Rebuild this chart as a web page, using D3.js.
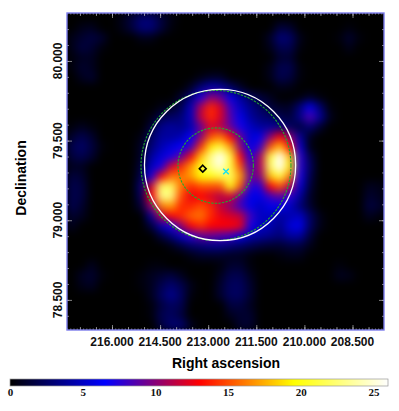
<!DOCTYPE html>
<html>
<head>
<meta charset="utf-8">
<script src="https://cdnjs.cloudflare.com/ajax/libs/d3/7.8.5/d3.min.js"></script>
<style>
  html, body { margin: 0; padding: 0; background: #fff; }
  svg { display: block; }
</style>
</head>
<body>
<div id="map"></div>
<script>
/* Tick labels */
const raTicks = [216, 214.5, 213, 211.5, 210, 208.5];
const decTicks = [80, 79.5, 79, 78.5];
const barTicks = [0, 5, 10, 15, 20, 25];

/* Colour map stops (counts) */
const colorStops = [0, 6.5, 13, 19.5, 26];
const colorNames = ["#000000", "#0000ff", "#ff0000", "#ffff00", "#ffffff"];

/* Overlay regions: ra, dec, radius in degrees of declination */
const whiteCircle = [212.63, 79.347, 0.4745];
const greenCircles = [[212.757, 79.344, 0.4707], [212.766, 79.343, 0.2366]];
const diamondMark = [213.17, 79.324];
const crossMark = [212.445, 79.306];

/* Counts map, 32 rows of 32 cells, top row first */
const counts = [
[0,0,0,0,0,0.5,1.5,2.8,2.8,1.5,0.5,0,0,0,0,0,0,0,0,0,0,0,0,0,0,0,0,0,0,0,0,0],
[0,0.6,0.8,0,0,0.5,1.5,3,3,1.5,0.3,0,0,0,0,0,0,0,0,0,0,1.5,1.2,0,0,0,0,0,0.3,0,0,0],
[0.6,1.2,1.6,1.2,0,0,0,0.6,0.6,0,0,0,0,0,0,0,0,0,0,0,1,3,2.6,0.6,0,0,0,0.3,1.2,0.3,0,0],
[0.6,1.6,1.2,0.3,0,0,0,0,0,0,0,0,0,0,0,0,0,0,0,0,0.6,2,2,0.3,0,0,0,0,0.6,0,0,0],
[0.3,0.8,0.8,0,0,0,0,0,0,0,0,0,0,0,0,0,0,0,0,0,0,1.2,1.2,0,0,0,0,0,0,0,0,0],
[0.3,1.2,0.8,0,0,0,0,0,0,0,0,0,0,0,0,0,0,0,0,0,0.6,2,2,0.3,0,0,0,0,0,0,0,0],
[0,0.8,1.2,0,0,0,0,0,0,0,0,0,0,0.5,1,1,0,0,0,0,0.6,2,1.6,0.3,0,0,0,0,0,0,0,0],
[0,0,0,0,0,0,0,0,0,0,0,0,1,3,4.5,4,2.5,1,0,0,0,0.6,0.5,0,0,0,0,0,0,0,0,0],
[0,0,0,0,0,0,0,0,0,0,0,1.2,3,7,10,9,6,4,2.5,1.5,0.8,0,0,0.3,1,0.3,0,0,0,0,0,0],
[0,0,0,0,0,0,0,0,0,0.5,1,2,5,11,14,12,8,5,3.5,2.5,1.5,1,1,3,6,3,0.3,0,0,0,0,0],
[0,0,0,0,0,0,0,0,0.5,2,2.5,3,5,11.5,14,12,8.5,6,4,3,2.5,2,1.5,3.5,8.5,4,0.8,0,0,0,0,0],
[0.3,0.8,0.3,0,0,0,0,0,1.5,3.5,4,3.5,4.5,9,12,11,9,7,5,4,4,3.5,2.5,1.5,3,1.2,0,0,0,0,0,0],
[1.2,2,1.2,0,0,0,0,0.5,2.5,4,4,4.5,6.5,10,15,16,13,9,5.5,6,10,13,10,4,0.8,0,0,0,0,0,0,0],
[2,2.6,1.6,0.3,0,0,0,1,3,4.5,5.5,6.5,8,14,19,21,17,10,6,8,15,18,13,5.5,0.5,0,0,0,0,0,0,0],
[1.6,2,1.2,0,0,0,0,1,4,5.5,7,9,13,18,23,26,21,13,7,11,21,26,18,7.5,2,0,0,0,0,0,0,0],
[0.8,0.8,0,0,0,0,0,1.5,5,7,12,14,17,20,23,25,21,15,8,11,22,26,19,7.5,2.5,0,0,0,0,0,0,0],
[1.6,1.2,0,0,0,0,0,2,7,13,16,16,17,19.5,20,21,22,17,9,10,18,21,16,7,2,0,0,0,0,0,0,0],
[2,1.6,0,0,0,0,0,3,12,22,22,16,14,15,15,15,20,15,7.5,7.5,13,15,11,5.5,1.5,0,0,0,0,0,0.8,0.6],
[2,1.6,0,0,0,0,0,2.5,13,23,23,15,12.5,13,12,11,12,9,6,6,8,9,7.5,4,1,0,0,0,0,0,1.2,0.8],
[2,1.2,0,0,0,0,0,1.5,10,16,17,14,14,15,14,11.5,10,8,6,5,6,6,5,3,1.2,0,0,0,0,0,1.6,1.2],
[1.2,0.8,0,0,0,0,0,0,4,11,13,14,15.5,16,14,12.5,12,11.5,8,5,5,4,4.5,5,2.5,0.6,0,0,0,0,0.8,0.3],
[0.8,0,0,0,0,0,0,0,1.5,4.5,7,10,13,14,13,13,13,12.5,7,5,4.5,3.5,5.5,6,2.5,0.6,0,0,0,0,0,0],
[0,0,0,0,0,0,0,0,0,1.5,3,5,7.5,9,9,8.5,8,6,4.5,4,3.5,3,4,4,1.5,0,0,0,0,0,0,0],
[0,0,0,0,0,0,0,0,0,0,0.5,1.5,2.5,3,3.5,3.5,3,2.5,2,1.5,1.2,1.2,1.6,1.6,0.6,0,0,0,0,0,0,0],
[0,0,0,0,0,0,0,0,0,0,0,0,0.5,1,1,1,0.8,0.8,0.3,0,0,0.3,0.6,0.6,0,0,0,0,0,0,0,0],
[0,0,0.8,0,0,0,0,0,0.3,0.3,0,0,0,0,0,0.3,1.2,1.2,0.3,0,0,0,0,0,0,0,0,0.3,0,0,0,0],
[0,0.9,1.2,0.3,0,0,0,0.3,0.8,1.2,1.6,0.8,0,0,0,0.8,2,2,0.8,0,0,0,0,0,0,0,0,0.8,0.6,0,0,0],
[0,0.6,0.9,0,0,0,0,0.3,0.8,2,2.8,2,0.6,0,0,1.2,2.4,2.4,1.2,0,0,0,0,0,0,0,0,0,0,0,0,0],
[0,0,0,0,0,0,0,0,0.8,2.4,3.6,2.4,0.3,0,0,1.2,2.4,2.4,1.2,0,0,0,0,0,0,0,0,0,0,0,0,0],
[0,0,0,0,0,0,0,0,0.3,1.6,2.4,2,0,0,0,0,1.6,1.6,0.8,0,0,0,0,0,0,0,0,0,0,0,0,0],
[0,0,0,0,0,0,0,0,0.3,2,2.4,1.6,0,0,0,0,0.8,1.2,1.2,0,0,0,0,0,0,0,0,0,0,0,0,0],
[0,0,0,0,0,0,0,0,0,1.6,2.8,2.8,0.8,0,0,0,0,1.2,1.2,0,0,0,0,0,0,0,0,0,0,0,0,0]
];

const width = 399, height = 411;
const plot = {left: 67, right: 384, top: 13, bottom: 330};
const frameColor = "#7c7cec";
const tickColor = "#b8b8b8";

const svg = d3.select("#map")
  .append("svg")
    .attr("width", width)
    .attr("height", height)
    .attr("viewBox", [0, 0, width, height])
    .attr("font-family", "'Liberation Sans', Arial, sans-serif");

const xScale = d3.scaleLinear().domain([217.403, 207.518]).range([plot.left, plot.right]);
const yScale = d3.scaleLinear().domain([80.301, 78.311]).range([plot.top, plot.bottom]);
const color = d3.scaleLinear().domain(colorStops).range(colorNames).clamp(true);

/* Cell bands for the map */
const colBand = d3.scaleBand().domain(d3.range(counts[0].length)).range([plot.left, plot.right]);
const rowBand = d3.scaleBand().domain(d3.range(counts.length)).range([plot.top, plot.bottom]);

const defs = svg.append("defs");
defs.append("clipPath").attr("id", "plot-clip")
  .append("rect")
    .attr("x", plot.left).attr("y", plot.top)
    .attr("width", plot.right - plot.left).attr("height", plot.bottom - plot.top);
defs.append("filter").attr("id", "smooth")
    .attr("filterUnits", "userSpaceOnUse")
    .attr("x", 0).attr("y", 0).attr("width", width).attr("height", height)
    .attr("color-interpolation-filters", "sRGB")
  .append("feGaussianBlur").attr("stdDeviation", 4.2);

/* Background and map cells */
const mapArea = svg.append("g").attr("clip-path", "url(#plot-clip)");
mapArea.append("rect")
  .attr("x", plot.left).attr("y", plot.top)
  .attr("width", plot.right - plot.left).attr("height", plot.bottom - plot.top)
  .attr("fill", "#000");

mapArea.append("g")
    .attr("filter", "url(#smooth)")
  .selectAll("g")
  .data(counts)
  .join("g")
  .selectAll("rect")
  .data((row, i) => row.map((v, j) => ({v, i, j})))
  .join("rect")
    .attr("x", d => colBand(d.j))
    .attr("y", d => rowBand(d.i))
    .attr("width", colBand.bandwidth() + 0.5)
    .attr("height", rowBand.bandwidth() + 0.5)
    .attr("fill", d => color(d.v));

/* Regions */
const rPx = r => yScale(0) - yScale(r);
const regions = svg.append("g").attr("clip-path", "url(#plot-clip)").attr("fill", "none");

regions.selectAll(".green")
  .data(greenCircles)
  .join("circle")
    .attr("class", "green")
    .attr("cx", d => xScale(d[0]))
    .attr("cy", d => yScale(d[1]))
    .attr("r", d => rPx(d[2]))
    .attr("stroke", "#23a82c")
    .attr("stroke-width", 1.1)
    .attr("stroke-dasharray", "2.4,1.2");

regions.append("circle")
  .attr("cx", xScale(whiteCircle[0]))
  .attr("cy", yScale(whiteCircle[1]))
  .attr("r", rPx(whiteCircle[2]))
  .attr("stroke", "#fff")
  .attr("stroke-width", 1.3);

regions.append("path")
  .attr("d", d3.symbol(d3.symbolDiamond2, 30)())
  .attr("transform", `translate(${xScale(diamondMark[0])},${yScale(diamondMark[1])})`)
  .attr("stroke", "#000")
  .attr("stroke-width", 1.6);

regions.append("path")
  .attr("d", d3.symbol(d3.symbolTimes, 22)())
  .attr("transform", `translate(${xScale(crossMark[0])},${yScale(crossMark[1])})`)
  .attr("stroke", "#18e0f0")
  .attr("stroke-width", 1.4);

/* Axes: 0.1 deg ticks on RA, 0.5 deg steps and labelled ones get longer */
const drawTicks = (axis, transform, size, values) => {
  svg.append("g")
    .attr("transform", transform)
    .call(axis.tickValues(values).tickSize(-size).tickFormat(""))
    .call(g => g.select(".domain").remove())
    .call(g => g.selectAll("line").attr("stroke", tickColor).attr("stroke-width", 0.7));
};

const raFine = d3.range(207.6, 217.4, 0.1);
const raMid = d3.range(208, 217.4, 0.5);
const decFine = d3.range(78.4, 80.3, 0.1);

[[d3.axisBottom(xScale), `translate(0,${plot.bottom})`], [d3.axisTop(xScale), `translate(0,${plot.top})`]]
  .forEach(([axis, tr]) => {
    drawTicks(axis, tr, 1.5, raFine);
    drawTicks(axis, tr, 3, raMid);
    drawTicks(axis, tr, 5, raTicks);
  });

[[d3.axisLeft(yScale), `translate(${plot.left},0)`], [d3.axisRight(yScale), `translate(${plot.right},0)`]]
  .forEach(([axis, tr]) => {
    drawTicks(axis, tr, 2, decFine);
    drawTicks(axis, tr, 5, decTicks);
  });

svg.append("rect")
  .attr("x", plot.left).attr("y", plot.top)
  .attr("width", plot.right - plot.left).attr("height", plot.bottom - plot.top)
  .attr("fill", "none")
  .attr("stroke", frameColor)
  .attr("stroke-width", 1.4);

/* Tick labels */
const fmt = d3.format(".3f");
svg.append("g")
  .selectAll("text")
  .data(raTicks)
  .join("text")
    .attr("x", d => xScale(d))
    .attr("y", 346)
    .attr("text-anchor", "middle")
    .attr("font-size", 12)
    .attr("font-weight", "bold")
    .attr("fill", "#111")
    .text(fmt);

svg.append("g")
  .selectAll("text")
  .data(decTicks)
  .join("text")
    .attr("transform", d => `translate(62,${yScale(d)}) rotate(-90)`)
    .attr("text-anchor", "middle")
    .attr("font-size", 12)
    .attr("font-weight", "bold")
    .attr("fill", "#111")
    .text(fmt);

/* Axis titles */
svg.append("text")
  .attr("x", 226)
  .attr("y", 368)
  .attr("text-anchor", "middle")
  .attr("font-size", 14)
  .attr("font-weight", "bold")
  .text("Right ascension");

svg.append("text")
  .attr("transform", "translate(26,178) rotate(-90)")
  .attr("text-anchor", "middle")
  .attr("font-size", 14)
  .attr("font-weight", "bold")
  .text("Declination");

/* Colour bar, one rect per pixel column */
const barX = d3.scaleLinear().domain([0, 26]).range([10, 388]);
const barTop = 379, barBottom = 386;
const barColumns = d3.range(10, 388);

svg.append("g")
  .attr("shape-rendering", "crispEdges")
  .selectAll("rect")
  .data(barColumns)
  .join("rect")
    .attr("x", d => d)
    .attr("y", barTop)
    .attr("width", 1)
    .attr("height", barBottom - barTop)
    .attr("fill", d => color(barX.invert(d)));

svg.append("rect")
  .attr("x", barX(0)).attr("y", barTop)
  .attr("width", barX(26) - barX(0)).attr("height", barBottom - barTop)
  .attr("fill", "none")
  .attr("stroke", "#999")
  .attr("stroke-width", 0.7);

const barAxis = svg.append("g")
  .attr("transform", `translate(0,${barBottom})`)
  .call(d3.axisBottom(barX).tickValues(barTicks).tickSize(0).tickPadding(2))
  .call(g => g.select(".domain").remove());

barAxis.selectAll("text")
  .attr("font-family", "'Liberation Serif', 'Times New Roman', serif")
  .attr("font-weight", "bold")
  .attr("font-size", 11)
  .attr("fill", "#111");
</script>
</body>
</html>
